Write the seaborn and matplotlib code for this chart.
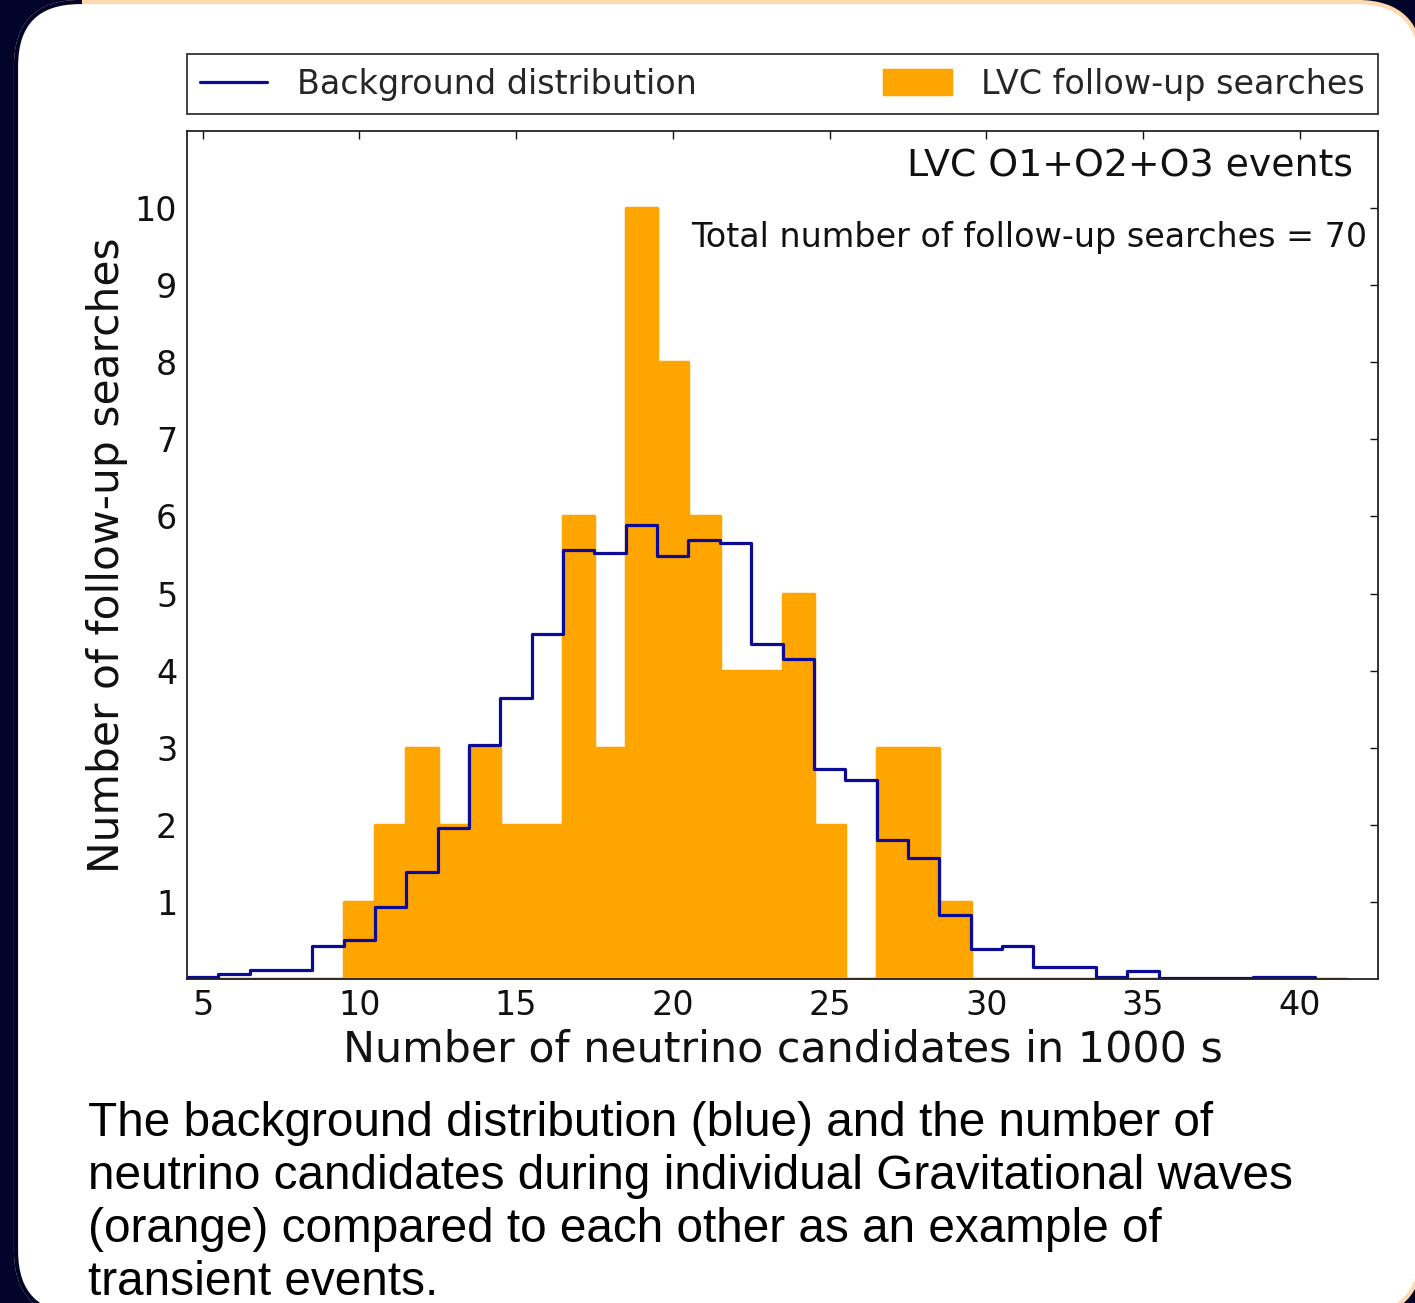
import numpy as np
import pandas as pd
import matplotlib
matplotlib.use("Agg")
import matplotlib.pyplot as plt
import matplotlib.patches as mpatches
import matplotlib.transforms as mtransforms
import seaborn as sns

# ---------------- data ----------------
lvc_centers = list(range(5, 42))
lvc_counts = [0, 0, 0, 0, 0,
              1, 2, 3, 2, 3, 2, 2, 6, 3, 10, 8, 6, 4, 4, 5, 2, 0, 3, 3, 1,
              0, 0, 0, 0, 0, 0, 0, 0, 0, 0, 0, 0]

bg_centers = list(range(5, 41))
bg_values = [0.03, 0.06, 0.12, 0.12, 0.43,
             0.51, 0.94, 1.39, 1.96, 3.04,
             3.65, 4.47, 5.57, 5.53, 5.89,
             5.49, 5.70, 5.65, 4.34, 4.15,
             2.72, 2.58, 1.80, 1.57, 0.83,
             0.39, 0.43, 0.15, 0.15, 0.03,
             0.11, 0.01, 0.01, 0.01, 0.03, 0.03]

x_ticks = [5, 10, 15, 20, 25, 30, 35, 40]
y_ticks = [1, 2, 3, 4, 5, 6, 7, 8, 9, 10]

label_bg = "Background distribution"
label_lvc = "LVC follow-up searches"
xlabel = "Number of neutrino candidates in 1000 s"
ylabel = "Number of follow-up searches"
title_txt = "LVC O1+O2+O3 events"
total_txt = "Total number of follow-up searches = 70"
caption_lines = [
    "The background distribution (blue) and the number of",
    "neutrino candidates during individual Gravitational waves",
    "(orange) compared to each other as an example of",
    "transient events.",
]

df_lvc = pd.DataFrame({"center": lvc_centers, "count": lvc_counts})
df_bg = pd.DataFrame({"center": bg_centers, "value": bg_values})

# ---------------- style ----------------
sns.set_style("white")
plt.rcParams["font.family"] = ["DejaVu Sans"]

W, H = 1415, 1303
fig = plt.figure(figsize=(W / 100, H / 100), dpi=100)
navy = "#03042a"
peach = "#FFD9B0"
fig.patch.set_facecolor(navy)

ident = mtransforms.IdentityTransform()
panel_kw = dict(boxstyle="round,pad=0,rounding_size=64", transform=ident)
panel = mpatches.FancyBboxPatch((16, -12), 1421 - 16, 1301 + 12,
                                facecolor="white", edgecolor=peach,
                                linewidth=3, zorder=0, **panel_kw)
fig.add_artist(panel)
panel_left = mpatches.FancyBboxPatch((16, -12), 1421 - 16, 1301 + 12,
                                     facecolor="none", edgecolor=navy,
                                     linewidth=3, zorder=0.5, **panel_kw)
fig.add_artist(panel_left)
clip = mpatches.Rectangle((0, 0), 82, H, transform=ident)
panel_left.set_clip_path(clip)

ax = fig.add_axes([187 / W, 1 - 979 / H, (1378 - 187) / W, (979 - 131) / H])
ax.set_facecolor("white")

edges_lvc = [c - 0.5 for c in lvc_centers] + [lvc_centers[-1] + 0.5]
edges_bg = [c - 0.5 for c in bg_centers] + [bg_centers[-1] + 0.5]

sns.histplot(data=df_lvc, x="center", weights="count", bins=edges_lvc,
             element="step", fill=True, color="#FFA500", alpha=1,
             linewidth=2.5, edgecolor="#FFA500", label=label_lvc, ax=ax)
sns.histplot(data=df_bg, x="center", weights="value", bins=edges_bg,
             element="step", fill=False, color="#0b0b98", linewidth=2.3,
             label=label_bg, ax=ax)

ax.set_xlim(4.5, 42.5)
ax.set_ylim(0, 11)
ax.set_xticks(x_ticks)
ax.set_yticks(y_ticks)
ax.tick_params(direction="in", top=True, right=True, length=6, width=1,
               labelsize=24, pad=7, colors="#111111")
for s in ax.spines.values():
    s.set_linewidth(1.3)
    s.set_color("#222222")

ax.set_xlabel(xlabel, fontsize=30.8, labelpad=5, color="#111111")
ax.set_ylabel(ylabel, fontsize=30.5, labelpad=5, color="#111111")

ax.text(0.979, 0.958, title_txt, transform=ax.transAxes, ha="right",
        va="center", fontsize=27.3, color="#111111")
ax.text(0.991, 0.875, total_txt, transform=ax.transAxes, ha="right",
        va="center", fontsize=24, color="#111111")

handles, labels = ax.get_legend_handles_labels()
hmap = dict(zip(labels, handles))
leg = ax.legend([hmap[label_bg], hmap[label_lvc]], [label_bg, label_lvc],
                loc="lower left", bbox_to_anchor=(0, 1.02, 1, 0.07),
                mode="expand", ncol=2, borderaxespad=0, fontsize=24,
                frameon=True, fancybox=False, edgecolor="#333333",
                framealpha=1, borderpad=0.4, handlelength=2.0,
                handletextpad=0.9)
leg.get_frame().set_linewidth(1.3)

baselines = [1136, 1189, 1242, 1295]
for line, yb in zip(caption_lines, baselines):
    fig.text(88 / W, 1 - yb / H, line, ha="left", va="baseline",
             fontsize=34.4, family=["Liberation Sans", "DejaVu Sans"],
             color="black")

fig.savefig("out.png", dpi=100, facecolor=fig.get_facecolor())
